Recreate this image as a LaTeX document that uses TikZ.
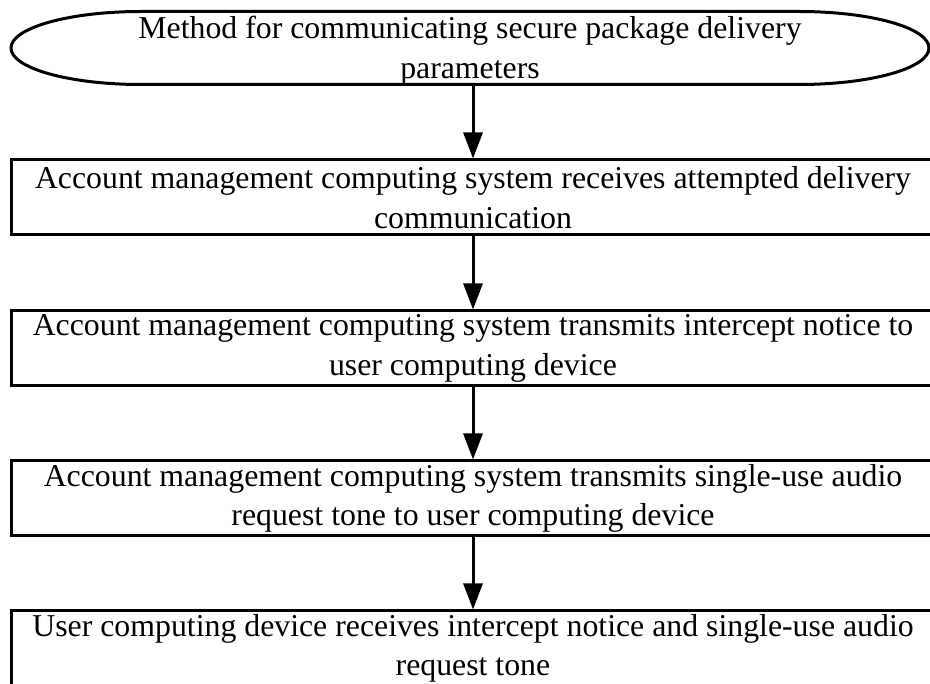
\documentclass[tikz,border=0pt]{standalone}
\usepackage{fontspec}
\setmainfont{Liberation Serif}
\usetikzlibrary{arrows.meta}
\begin{document}
\begin{tikzpicture}[x=1pt,y=-1pt,
  lbl/.style={font=\fontsize{31.8}{39.5}\selectfont, align=center, inner sep=0pt},
  stepbox/.style={lbl, draw, line width=3pt, rectangle, minimum width=924pt, minimum height=75pt},
  arr/.style={line width=3pt, -{Triangle[length=26pt,width=19pt]}}]
\useasboundingbox (0,0) rectangle (930,684);
% terminator outline
\draw[line width=3pt] (141,11.5) arc[start angle=90, end angle=270, x radius=130pt, y radius=36.5pt]
  -- (799,84.5) arc[start angle=-90, end angle=90, x radius=130pt, y radius=36.5pt] -- cycle;
\node[lbl, minimum height=73pt] (t) at (470,50.5) {Method for communicating secure package delivery\\parameters};
\node[stepbox] (b1) at (473,197.5) {Account management computing system receives attempted delivery\\communication};
\node[stepbox] (b2) at (473,348.5) {Account management computing system transmits intercept notice to\\user computing device};
\node[stepbox] (b3) at (473,498.5) {Account management computing system transmits single-use audio\\request tone to user computing device};
\node[stepbox] (b4) at (473,648.5) {User computing device receives intercept notice and single-use audio\\request tone};
\coordinate (tb) at (473,84.5);
\draw[arr] (tb) -- (b1.north);
\draw[arr] (b1.south) -- (b2.north);
\draw[arr] (b2.south) -- (b3.north);
\draw[arr] (b3.south) -- (b4.north);
\end{tikzpicture}
\end{document}
